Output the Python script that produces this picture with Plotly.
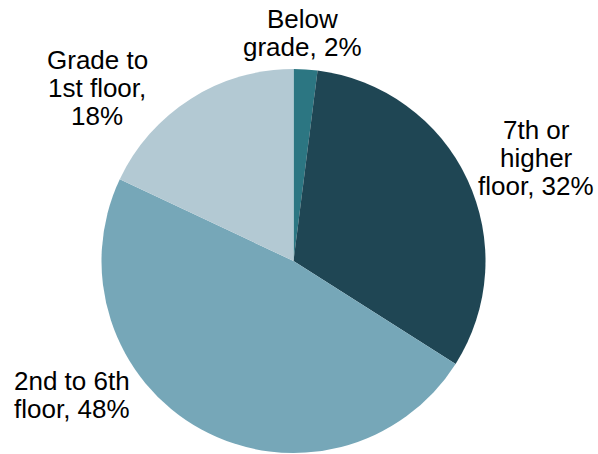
import plotly.graph_objects as go

categories = ["Below grade", "7th or higher floor", "2nd to 6th floor", "Grade to 1st floor"]
values = [2, 32, 48, 18]
label_lines = [["Below", "grade, 2%"], ["7th or", "higher", "floor, 32%"],
               ["2nd to 6th", "floor, 48%"], ["Grade to", "1st floor,", "18%"]]
colors = ["#2C7682", "#1F4654", "#76A7B8", "#B3C9D3"]

W, H = 598, 454
cx, cy, r = 293.5, 261, 192

fig = go.Figure(go.Pie(
    labels=categories, values=values, sort=False, direction="clockwise", rotation=0,
    marker=dict(colors=colors, line=dict(width=0)), textinfo="none", hoverinfo="label+percent",
    domain=dict(x=[(cx - r) / W, (cx + r) / W], y=[(H - cy - r) / H, (H - cy + r) / H]),
    showlegend=False,
))

# label anchor (pixels in reference) : x, first-line y, alignment
pos = [(302, 19, "center"), (536, 130, "center"), (12, 381, "left"), (97, 60, "center")]
LS = 28
for lines, (x, y, al) in zip(label_lines, pos):
    for i, ln in enumerate(lines):
        fig.add_annotation(x=x / W, y=1 - (y + i * LS) / H, xref="paper", yref="paper",
                           text=ln, showarrow=False, align=al,
                           xanchor="left" if al == "left" else "center", yanchor="middle",
                           font=dict(family="Liberation Sans, Arial", size=26, color="#000000"))

fig.update_layout(width=W, height=H, margin=dict(l=0, r=0, t=0, b=0),
                  paper_bgcolor="white", plot_bgcolor="white")
fig.write_html("out.html", config={"displayModeBar": False},
               post_script="document.body.style.margin='0';document.body.style.overflow='hidden';")
